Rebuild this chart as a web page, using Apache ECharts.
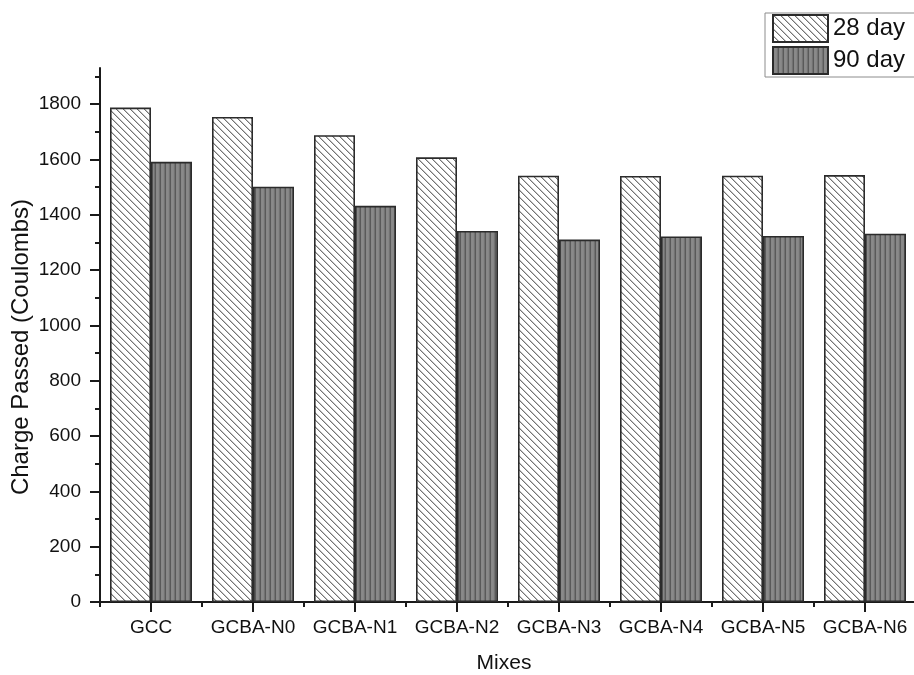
<!DOCTYPE html>
<html>
<head>
<meta charset="utf-8">
<title>Charge Passed</title>
<script src="https://cdn.jsdelivr.net/npm/echarts@6/dist/echarts.min.js"></script>
<style>
  html, body { margin: 0; padding: 0; background: #ffffff; }
  #chart { width: 914px; height: 675px; }
</style>
</head>
<body>
<div id="chart"></div>
<script>
// Mix designations along the x axis
const categories = ['GCC', 'GCBA-N0', 'GCBA-N1', 'GCBA-N2', 'GCBA-N3', 'GCBA-N4', 'GCBA-N5', 'GCBA-N6'];

// Charge passed (Coulombs) at each curing age
const day28 = [1787, 1753, 1687, 1607, 1541, 1540, 1541, 1543];
const day90 = [1591, 1501, 1432, 1341, 1310, 1321, 1323, 1331];

const seriesNames = ['28 day', '90 day'];

// Y-axis major (labelled) and minor tick values
const yMajorTicks = [0, 200, 400, 600, 800, 1000, 1200, 1400, 1600, 1800];
const yMinorTicks = [100, 300, 500, 700, 900, 1100, 1300, 1500, 1700, 1900];

const FONT = '"Liberation Sans", Arial, Helvetica, sans-serif';
const AXIS_COLOR = '#1a1a1a';

// Diagonal "\" hatch on white
function diagonalHatch() {
  const size = 7;
  const c = document.createElement('canvas');
  c.width = size; c.height = size;
  const ctx = c.getContext('2d');
  const img = ctx.createImageData(size, size);
  for (let y = 0; y < size; y++) {
    for (let x = 0; x < size; x++) {
      const d = ((x - y) % size + size) % size;
      let v = 255;
      if (d === 0) v = 115;
      else if (d === 1) v = 195;
      const i = (y * size + x) * 4;
      img.data[i] = v; img.data[i + 1] = v; img.data[i + 2] = v; img.data[i + 3] = 255;
    }
  }
  ctx.putImageData(img, 0, 0);
  return c;
}

// Vertical stripes on mid grey
function verticalStripes() {
  const shades = [90, 136, 138, 134, 114];
  const c = document.createElement('canvas');
  c.width = shades.length; c.height = 4;
  const ctx = c.getContext('2d');
  shades.forEach((v, x) => {
    ctx.fillStyle = 'rgb(' + v + ',' + v + ',' + v + ')';
    ctx.fillRect(x, 0, 1, 4);
  });
  return c;
}

const chart = echarts.init(document.getElementById('chart'), null, { renderer: 'canvas' });

const barBorder = { borderColor: '#2b2b2b', borderWidth: 1.6 };

chart.setOption({
  backgroundColor: '#ffffff',
  animation: false,
  textStyle: { fontFamily: FONT },
  grid: { left: 100, top: 68, width: 816, height: 534, containLabel: false, outerBoundsMode: 'none' },
  legend: {
    left: 765,
    top: 13,
    orient: 'vertical',
    icon: 'rect',
    itemWidth: 55,
    itemHeight: 27,
    itemGap: 3,
    padding: [1, 40, 2, 7],
    borderColor: '#8c8c8c',
    borderWidth: 1,
    backgroundColor: '#ffffff',
    textStyle: { fontFamily: FONT, fontSize: 24, color: '#111', padding: [0, 0, 0, 0] },
    data: seriesNames
  },
  xAxis: [
    {
      type: 'category',
      data: categories,
      position: 'bottom',
      name: 'Mixes',
      nameLocation: 'middle',
      nameGap: 51,
      nameMoveOverlap: false,
      nameTextStyle: { fontFamily: FONT, fontSize: 21, color: '#111', padding: [0, 8, 0, 0] },
      axisLine: { show: true, lineStyle: { color: AXIS_COLOR, width: 2 } },
      axisTick: { show: true, alignWithLabel: true, length: 10, lineStyle: { color: AXIS_COLOR, width: 2 } },
      axisLabel: { fontFamily: FONT, fontSize: 19, color: '#111', margin: 16, interval: 0 },
      splitLine: { show: false }
    },
    {
      type: 'category',
      data: categories,
      position: 'bottom',
      axisLine: { show: false },
      axisTick: { show: true, alignWithLabel: false, length: 5, lineStyle: { color: AXIS_COLOR, width: 2 } },
      axisLabel: { show: false },
      splitLine: { show: false }
    }
  ],
  yAxis: [
    {
      type: 'value',
      position: 'left',
      min: 0,
      max: 1930,
      name: 'Charge Passed (Coulombs)',
      nameLocation: 'middle',
      nameGap: 67,
      nameMoveOverlap: false,
      nameTextStyle: { fontFamily: FONT, fontSize: 24, color: '#111', padding: [0, 24, 0, 0] },
      axisLine: { show: true, lineStyle: { color: AXIS_COLOR, width: 2 } },
      axisTick: { show: true, length: 10, customValues: yMajorTicks, lineStyle: { color: AXIS_COLOR, width: 2 } },
      axisLabel: {
        fontFamily: FONT, fontSize: 19, color: '#111', margin: 19,
        customValues: yMajorTicks,
        formatter: (v) => String(v)
      },
      splitLine: { show: false }
    },
    {
      type: 'value',
      position: 'left',
      min: 0,
      max: 1930,
      axisLine: { show: false },
      axisTick: { show: true, length: 5, customValues: yMinorTicks, lineStyle: { color: AXIS_COLOR, width: 2 } },
      axisLabel: { show: false },
      splitLine: { show: false }
    }
  ],
  series: [
    {
      name: seriesNames[0],
      type: 'bar',
      xAxisIndex: 0,
      yAxisIndex: 0,
      data: day28,
      barWidth: 41,
      barGap: '0%',
      itemStyle: Object.assign({ color: { image: diagonalHatch(), repeat: 'repeat' } }, barBorder)
    },
    {
      name: seriesNames[1],
      type: 'bar',
      xAxisIndex: 0,
      yAxisIndex: 0,
      data: day90,
      barWidth: 41,
      barGap: '0%',
      itemStyle: Object.assign({ color: { image: verticalStripes(), repeat: 'repeat' } }, barBorder)
    }
  ]
});
</script>
</body>
</html>
